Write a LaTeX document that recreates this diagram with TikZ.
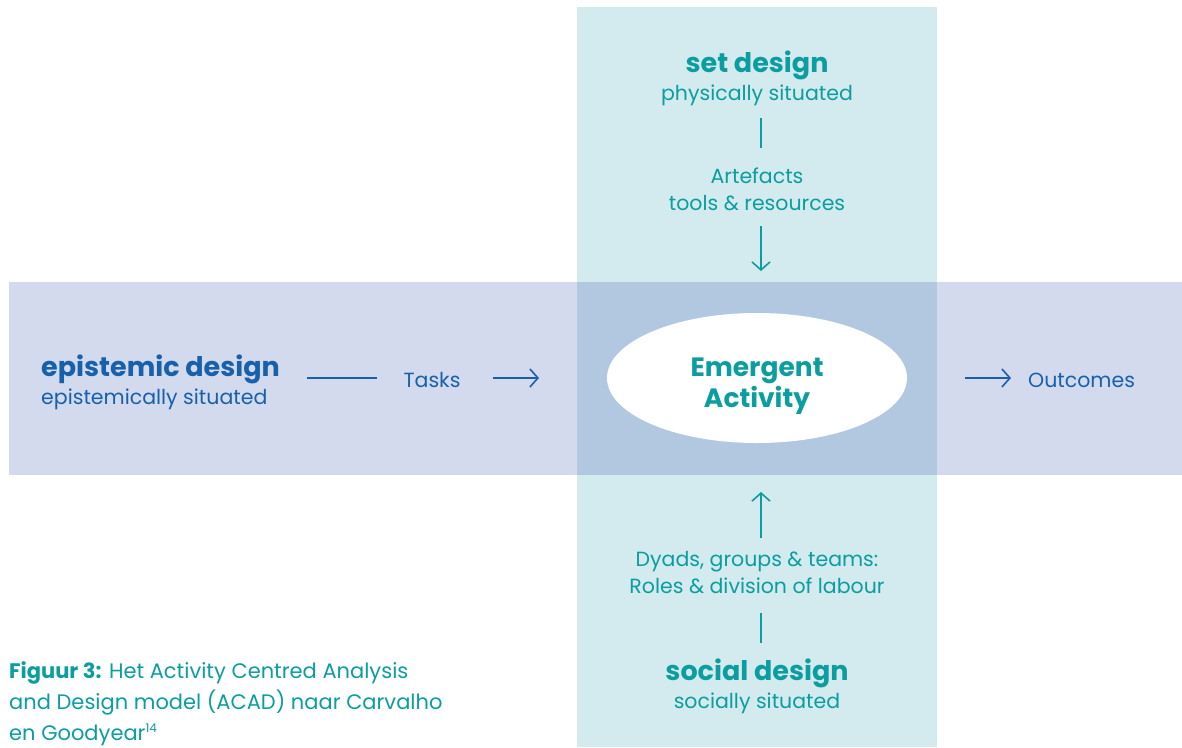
\documentclass[tikz,border=0pt]{standalone}
\usepackage{fontspec}
\setmainfont{Poppins}
\usetikzlibrary{arrows.meta,shapes.geometric}
\definecolor{vband}{HTML}{D3EBEE}
\definecolor{hband}{HTML}{D3DAEE}
\definecolor{cross}{HTML}{B2C8E0}
\definecolor{teal}{HTML}{0B9DA0}
\definecolor{navy}{HTML}{1760AC}
\tikzset{
  x=1pt,y=-1pt,
  title/.style={font=\fontsize{27}{30}\selectfont\bfseries,inner sep=0pt,anchor=base},
  sub/.style={font=\fontsize{20.5}{23}\selectfont,inner sep=0pt,anchor=base},
  lbl/.style={font=\fontsize{20.5}{27}\selectfont,inner sep=0pt,align=center},
  conn/.style={line width=1.6pt},
  arr/.style={conn,-{Straight Barb[length=8pt,width=18pt,line width=1.6pt]}},
}
\begin{document}
\begin{tikzpicture}
\useasboundingbox (0,0) rectangle (1182,747);
% bands
\fill[vband] (577,7) rectangle (937,747);
\fill[hband] (9,282) rectangle (1182,475);
\fill[cross] (577,282) rectangle (937,475);
% centre
\node[ellipse,fill=white,minimum width=300pt,minimum height=130pt,inner sep=0pt] (act) at (757,378) {};
\node[teal,font=\fontsize{26.5}{31}\selectfont\bfseries,align=center] (actlbl) at (757,386) {Emergent\\Activity};
% set design (top)
\node[title,teal] (set) at (757,72) {set design};
\node[sub,teal] (setsub) at (757,100) {physically situated};
\coordinate (s1) at (761,118);
\coordinate (s2) at (761,148);
\draw[conn,teal] (s1) -- (s2);
\node[lbl,teal] (art) at (757,189) {Artefacts\\tools \& resources};
\coordinate (s3) at (761,226);
\coordinate (s4) at (761,271);
\draw[arr,teal] (s3) -- (s4);
% social design (bottom)
\coordinate (b1) at (761,538);
\coordinate (b2) at (761,492);
\draw[arr,teal] (b1) -- (b2);
\node[lbl,teal] (dyad) at (757,573) {Dyads, groups \& teams:\\Roles \& division of labour};
\coordinate (b3) at (761,613);
\coordinate (b4) at (761,643);
\draw[conn,teal] (b3) -- (b4);
\node[title,teal] (soc) at (757,680) {social design};
\node[sub,teal] (socsub) at (757,708) {socially situated};
% epistemic design (left)
\node[title,navy,anchor=base west] (epi) at (41,376) {epistemic design};
\node[sub,navy,anchor=base west] (episub) at (41,404) {epistemically situated};
\coordinate (e1) at (307,378);
\coordinate (e2) at (377,378);
\draw[conn,navy] (e1) -- (e2);
\node[sub,navy,anchor=base] (tasks) at (432,387) {Tasks};
\coordinate (e3) at (493,378);
\coordinate (e4) at (539,378);
\draw[arr,navy] (e3) -- (e4);
\coordinate (o1) at (965,378);
\coordinate (o2) at (1011,378);
\draw[arr,navy] (o1) -- (o2);
\node[sub,navy,anchor=base west] (out) at (1028,387) {Outcomes};
% caption
\node[teal,anchor=base west,inner sep=0pt,align=left,font=\fontsize{21}{31}\selectfont] (cap) at (9,740)
  {\textbf{Figuur 3:} Het Activity Centred Analysis\\and Design model (ACAD) naar Carvalho\\en Goodyear\textsuperscript{\fontsize{12}{12}\selectfont 14}};
\end{tikzpicture}
\end{document}
